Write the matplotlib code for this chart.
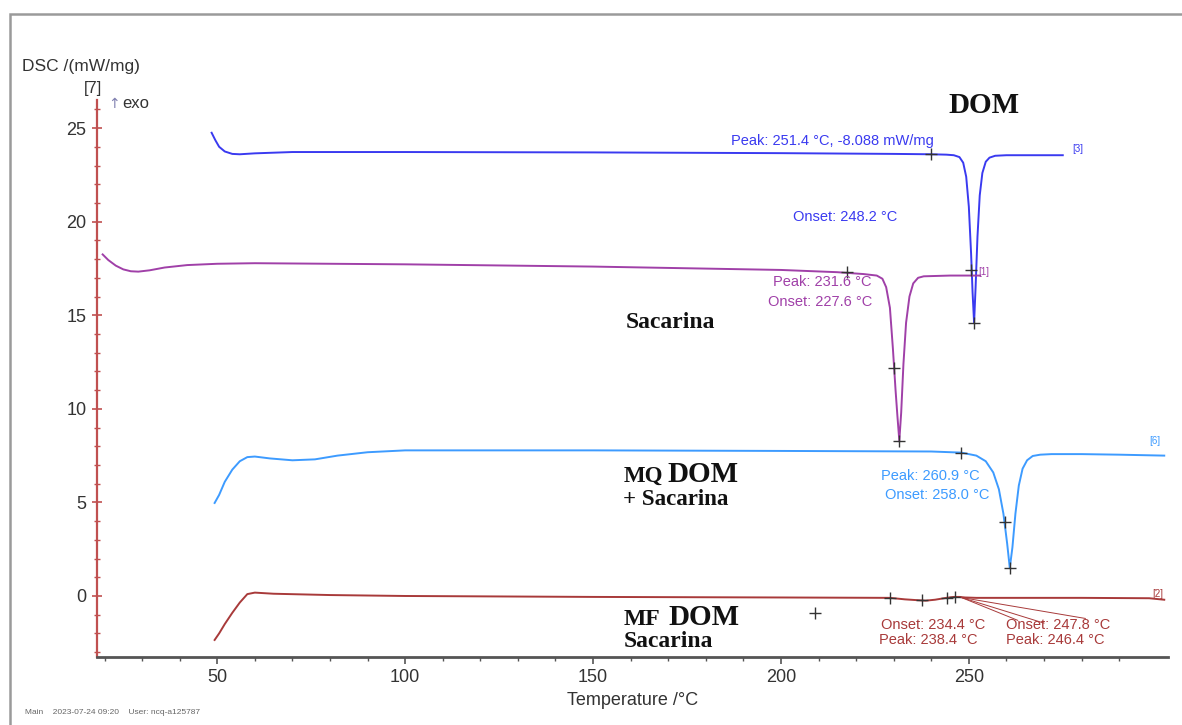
import matplotlib.pyplot as plt
from matplotlib.patches import Rectangle
from matplotlib.ticker import MultipleLocator

plt.rcParams['font.family'] = ['Liberation Sans', 'DejaVu Sans']

# DSC curves, temperature in °C and signal in mW/mg (curves are offset)
dom_t = [48.5, 49.5, 50.5, 52, 54, 56, 60, 70, 100, 150, 200, 230, 240, 244, 246,
         247.5, 248.5, 249.3, 250.0, 250.6, 251.0, 251.4, 251.8, 252.3, 252.9,
         253.6, 254.5, 255.5, 257, 260, 275]
dom_v = [24.75, 24.35, 24.0, 23.75, 23.62, 23.6, 23.65, 23.72, 23.72, 23.7, 23.66,
         23.62, 23.6, 23.58, 23.55, 23.45, 23.15, 22.4, 20.8, 18.3, 16.2, 14.6,
         16.5, 19.2, 21.4, 22.6, 23.2, 23.42, 23.52, 23.55, 23.55]

sac_t = [19.5, 21, 23, 25, 27, 29, 32, 36, 42, 50, 60, 100, 150, 200, 215, 222,
         225.5, 227, 228, 229, 229.8, 230.5, 231.0, 231.5, 232.0, 232.6, 233.3,
         234.2, 235.2, 236.5, 238, 245, 253]
sac_v = [18.25, 17.95, 17.65, 17.45, 17.35, 17.33, 17.4, 17.55, 17.68, 17.75, 17.78,
         17.72, 17.6, 17.42, 17.3, 17.2, 17.12, 16.95, 16.5, 15.4, 13.2, 11.0, 9.6,
         8.3, 9.8, 12.4, 14.6, 16.0, 16.7, 17.0, 17.08, 17.12, 17.12]

mq_t = [49.3, 50.5, 52, 54, 56, 58, 60, 64, 70, 76, 82, 90, 100, 150, 200, 240,
        248, 252, 254.5, 256.5, 258, 259.2, 260.2, 260.9, 261.6, 262.4, 263.3,
        264.3, 265.5, 267, 269, 272, 280, 290, 302]
mq_v = [4.97, 5.4, 6.1, 6.75, 7.2, 7.42, 7.45, 7.35, 7.25, 7.3, 7.5, 7.68, 7.78,
        7.78, 7.75, 7.72, 7.66, 7.5, 7.2, 6.6, 5.7, 4.4, 2.8, 1.5, 2.6, 4.4, 5.9,
        6.8, 7.25, 7.48, 7.55, 7.58, 7.58, 7.55, 7.5]

mf_t = [49.3, 50.5, 52, 54, 56, 58, 60, 65, 80, 100, 150, 200, 229, 233, 236,
        238.5, 241, 244, 246, 247.5, 249, 252, 260, 280, 298, 302]
mf_v = [-2.35, -2.0, -1.5, -0.9, -0.35, 0.1, 0.18, 0.12, 0.05, 0.0, -0.05, -0.08,
        -0.1, -0.18, -0.22, -0.25, -0.2, -0.1, -0.05, -0.05, -0.08, -0.1, -0.1,
        -0.1, -0.12, -0.2]

# evaluation markers (onset / peak picks)
dom_pick_t = [239.8, 250.7, 251.4]
dom_pick_v = [23.6, 17.4, 14.6]
sac_pick_t = [217.5, 230.0, 231.5]
sac_pick_v = [17.3, 12.2, 8.3]
mq_pick_t = [247.8, 259.5, 260.9]
mq_pick_v = [7.66, 3.95, 1.5]
mf_pick_t = [229.0, 237.5, 244.3, 246.2, 209.0]
mf_pick_v = [-0.1, -0.22, -0.1, -0.06, -0.9]

x_major = [50, 100, 150, 200, 250]
x_minor = [t for t in range(20, 300, 10) if t % 50]

c_dom = '#3a3af0'
c_sac = '#a040a8'
c_mq = '#3d9bff'
c_mf = '#a83a3a'

fig = plt.figure(figsize=(11.82, 7.25), dpi=100)
ax = fig.add_axes([97 / 1182, 1 - 657 / 725, (1168 - 97) / 1182, (657 - 100) / 725])

ax.plot(dom_t, dom_v, color=c_dom, lw=1.4)
ax.plot(sac_t, sac_v, color=c_sac, lw=1.4)
ax.plot(mq_t, mq_v, color=c_mq, lw=1.4)
ax.plot(mf_t, mf_v, color=c_mf, lw=1.4)

for pt, pv in [(dom_pick_t, dom_pick_v), (sac_pick_t, sac_pick_v),
               (mq_pick_t, mq_pick_v), (mf_pick_t, mf_pick_v)]:
    ax.plot(pt, pv, ls='none', marker='+', ms=8, mew=1.0, color='#333333')

ax.set_xlim(18, 303)
ax.set_ylim(-3.26, 26.5)

# axes styling
for s in ['top', 'right']:
    ax.spines[s].set_visible(False)
ax.spines['left'].set_color('#c05050')
ax.spines['left'].set_linewidth(1.6)
ax.spines['bottom'].set_color('#555555')
ax.spines['bottom'].set_linewidth(2.0)
ax.set_xticks(x_major)
ax.set_xticks(x_minor, minor=True)
ax.yaxis.set_major_locator(MultipleLocator(5))
ax.yaxis.set_minor_locator(MultipleLocator(1))
ax.tick_params(axis='y', which='major', direction='inout', length=7, width=1.2,
               color='#c05050', labelsize=13, labelcolor='#333333', pad=4)
ax.tick_params(axis='y', which='minor', direction='inout', length=4, width=1.0,
               color='#c05050')
ax.tick_params(axis='x', which='major', direction='out', length=5, width=1.2,
               color='#555555', labelsize=13, labelcolor='#333333', pad=4)
ax.tick_params(axis='x', which='minor', direction='out', length=3, width=1.0,
               color='#555555')
ax.set_xlabel('Temperature /°C', fontsize=13, color='#333333', labelpad=4)

fig.text(22 / 1182, 1 - 67 / 725, 'DSC /(mW/mg)', fontsize=12.5, color='#333333',
         ha='left', va='center')
fig.text(84 / 1182, 1 - 88 / 725, '[7]', fontsize=12, color='#333333',
         ha='left', va='center')
fig.text(108 / 1182, 1 - 104 / 725, '↑', fontsize=10, color='#8080b0',
         ha='left', va='center', family=['DejaVu Sans'])
fig.text(122 / 1182, 1 - 104 / 725, 'exo', fontsize=12, color='#333333',
         ha='left', va='center')
fig.text(25 / 1182, 1 - 713 / 725, 'Main    2023-07-24 09:20    User: ncq-a125787',
         fontsize=6, color='#666666', ha='left', va='center')

# outer frame
fig.add_artist(Rectangle((10 / 1182, -0.05), 1.0, 1.05 - 14 / 725,
                         transform=fig.transFigure, fill=False,
                         ec='#9a9a9a', lw=1.8))

ann = dict(fontsize=10.5, va='center')
ax.text(186.6, 24.3, 'Peak: 251.4 °C, -8.088 mW/mg', color=c_dom, ha='left', **ann)
ax.text(203.1, 20.25, 'Onset: 248.2 °C', color=c_dom, ha='left', **ann)
ax.text(224.0, 16.77, 'Peak: 231.6 °C', color=c_sac, ha='right', **ann)
ax.text(224.4, 15.7, 'Onset: 227.6 °C', color=c_sac, ha='right', **ann)
ax.text(226.5, 6.41, 'Peak: 260.9 °C', color=c_mq, ha='left', **ann)
ax.text(227.8, 5.4, 'Onset: 258.0 °C', color=c_mq, ha='left', **ann)
ax.text(226.5, -1.55, 'Onset: 234.4 °C', color=c_mf, ha='left', **ann)
ax.text(226.0, -2.35, 'Peak: 238.4 °C', color=c_mf, ha='left', **ann)
ax.text(259.8, -1.55, 'Onset: 247.8 °C', color=c_mf, ha='left', **ann)
ax.text(259.8, -2.35, 'Peak: 246.4 °C', color=c_mf, ha='left', **ann)

# leader lines for the MF evaluation
for tx, ty in [(281.0, -1.2), (270.0, -1.45), (263.0, -1.3)]:
    ax.plot([248.0, tx], [-0.08, ty], color=c_mf, lw=0.7)

tag = dict(fontsize=7, va='center', ha='left')
ax.text(277.5, 23.9, '[3]', color=c_dom, **tag)
ax.text(252.5, 17.3, '[1]', color=c_sac, **tag)
ax.text(298.0, 8.3, '[6]', color=c_mq, **tag)
ax.text(298.8, 0.1, '[2]', color=c_mf, **tag)

# sample names
serif = dict(family=['Liberation Serif', 'DejaVu Serif'], fontweight='bold',
             color='#111111', va='baseline', ha='left')
ax.text(244.6, 25.8, 'DOM', fontsize=21, **serif)
ax.text(158.6, 14.32, 'Sacarina', fontsize=17, **serif)
ax.text(158.1, 6.09, 'MQ', fontsize=16.5, **serif)
ax.text(169.8, 6.09, 'DOM', fontsize=21, **serif)
ax.text(158.1, 4.86, '+ Sacarina', fontsize=16.5, **serif)
ax.text(158.1, -1.55, 'MF', fontsize=17, **serif)
ax.text(170.1, -1.55, 'DOM', fontsize=21, **serif)
ax.text(158.1, -2.72, 'Sacarina', fontsize=17, **serif)

fig.savefig('out.png', dpi=100)
